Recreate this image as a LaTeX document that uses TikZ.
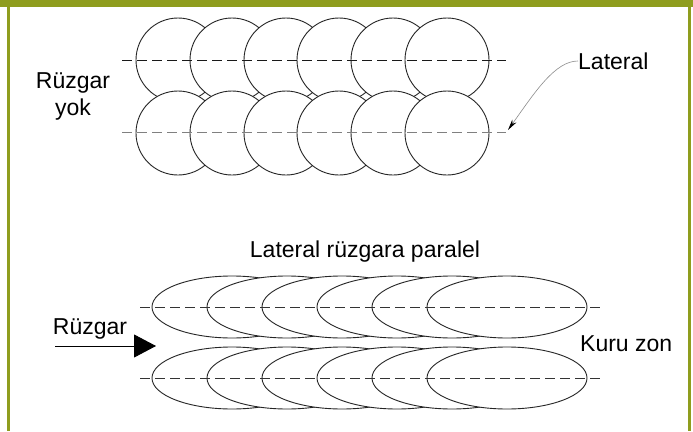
\documentclass[tikz,border=0pt]{standalone}
\usepackage{fontspec}
\setmainfont{Liberation Sans}
\usetikzlibrary{arrows.meta}

\definecolor{olivebar}{RGB}{143,157,30}

\begin{document}
\begin{tikzpicture}[x=1pt, y=-1pt,
    wetzone/.style={draw=black!85, fill=white, line width=0.9pt},
    lateralline/.style={dash pattern=on 10pt off 5pt, line width=0.9pt},
    caption/.style={font=\fontsize{23}{27}\selectfont, inner sep=0pt}]
    % Frame
    \useasboundingbox (0,0) rectangle (693,431);
    \fill[white] (0,0) rectangle (693,431);
    \fill[olivebar] (0,0) rectangle (693,7);
    \fill[olivebar] (7,0) rectangle (10,431);
    \fill[olivebar] (688,0) rectangle (691,431);

    % Define coordinates
    \coordinate (calmA) at (122,60);
    \coordinate (calmB) at (506,60);
    \coordinate (calmC) at (122,132);
    \coordinate (calmD) at (506,132);
    \coordinate (windA) at (140,307);
    \coordinate (windB) at (604,307);
    \coordinate (windC) at (140,378);
    \coordinate (windD) at (604,378);
    \coordinate (latip) at (508,130);
    \coordinate (windtail) at (55,346);
    \coordinate (windtip) at (156,346);

    % Circles, no wind
    \draw[wetzone] (178,60) circle (42);
    \draw[wetzone] (232,60) circle (42);
    \draw[wetzone] (286,60) circle (42);
    \draw[wetzone] (339,60) circle (42);
    \draw[wetzone] (393,60) circle (42);
    \draw[wetzone] (447,60) circle (42);
    \draw[wetzone] (178,133) circle (42);
    \draw[wetzone] (232,133) circle (42);
    \draw[wetzone] (286,133) circle (42);
    \draw[wetzone] (339,133) circle (42);
    \draw[wetzone] (393,133) circle (42);
    \draw[wetzone] (447,133) circle (42);

    % Ellipses, wind along the lateral
    \draw[wetzone] (232,307) ellipse (80 and 31);
    \draw[wetzone] (287,307) ellipse (80 and 31);
    \draw[wetzone] (342,307) ellipse (80 and 31);
    \draw[wetzone] (397,307) ellipse (80 and 31);
    \draw[wetzone] (452,307) ellipse (80 and 31);
    \draw[wetzone] (507,307) ellipse (80 and 31);
    \draw[wetzone] (232,378) ellipse (80 and 31);
    \draw[wetzone] (287,378) ellipse (80 and 31);
    \draw[wetzone] (342,378) ellipse (80 and 31);
    \draw[wetzone] (397,378) ellipse (80 and 31);
    \draw[wetzone] (452,378) ellipse (80 and 31);
    \draw[wetzone] (507,378) ellipse (80 and 31);

    % Draw laterals
    \draw[lateralline, black!90] (calmA) -- (calmB);
    \draw[lateralline, black!50] (calmC) -- (calmD);
    \draw[lateralline, black!80] (windA) -- (windB);
    \draw[lateralline, black!80] (windC) -- (windD);

    % Labels
    \node[caption, align=center] (calm) at (73,96) {Rüzgar\\yok};
    \node[caption, anchor=west] (lateral) at (578,61) {Lateral};
    \node[caption] (parallel) at (365,252) {Lateral rüzgara paralel};
    \node[caption] (wind) at (90,329) {Rüzgar};
    \node[caption, anchor=west] (dry) at (580,344) {Kuru zon};

    % Draw arrows
    \draw[black!45, line width=0.6pt, -{Stealth[length=11pt, width=5pt, color=black]}]
        (lateral.west) .. controls (555,61) and (535,92) .. (latip);
    \draw[line width=0.9pt, -{Triangle[length=22pt, width=23pt]}] (windtail) -- (windtip);

\end{tikzpicture}
\end{document}
